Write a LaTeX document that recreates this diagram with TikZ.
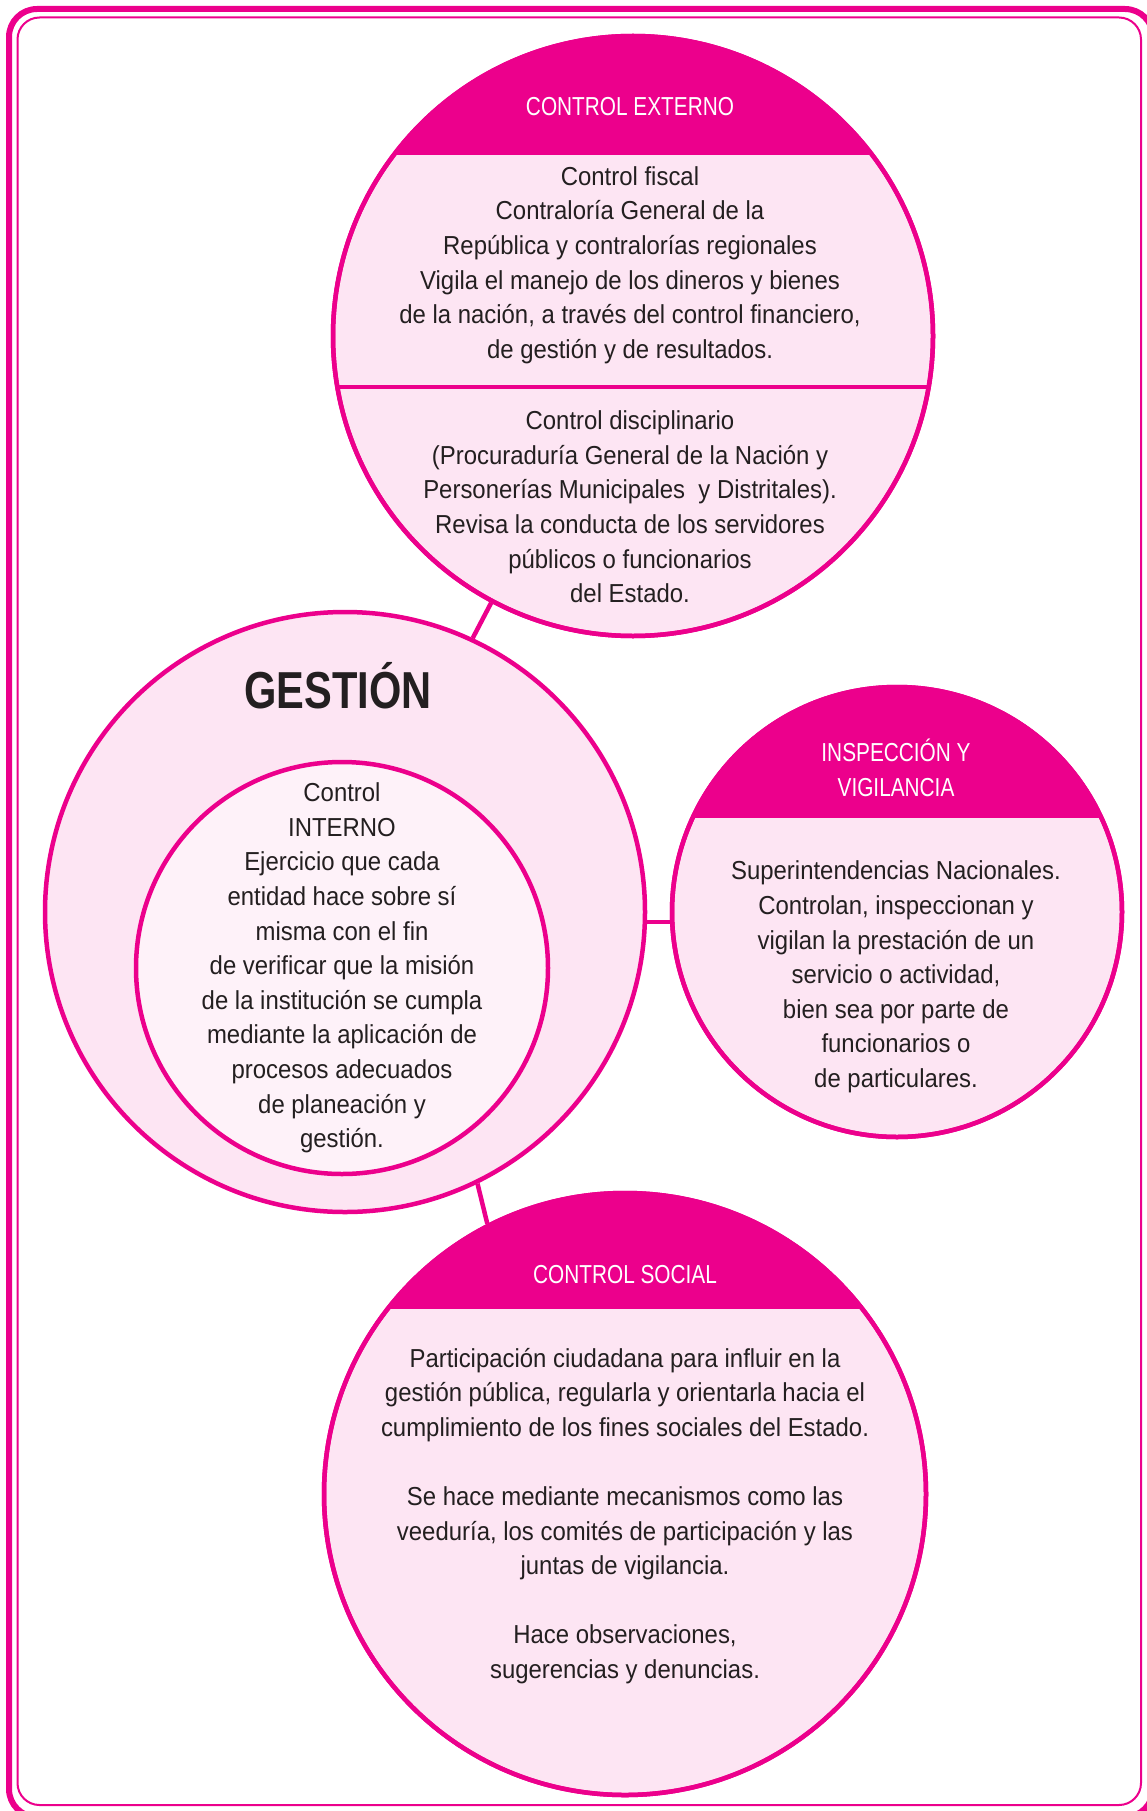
\documentclass[tikz,border=0pt]{standalone}
\usepackage{fontspec}
\setmainfont{Liberation Sans}[FakeStretch=0.92]
\newfontfamily\titular{Liberation Sans}[FakeStretch=0.8]
\definecolor{rosa}{HTML}{EC008C}
\definecolor{tinta}{HTML}{231F20}
\tikzset{
  circulo/.style={circle,draw=rosa,line width=4.5pt,fill=rosa!10,inner sep=0pt},
  texto/.style={align=center,text=tinta,font=\fontsize{26}{34.6}\selectfont},
  titulo/.style={align=center,text=white,font=\titular\fontsize{26}{34.6}\selectfont},
  enlace/.style={rosa,line width=4.5pt}
}
\begin{document}
\begin{tikzpicture}[x=1pt,y=-1pt]
  \useasboundingbox (0,0) rectangle (1147,1811);
  \draw[rosa,line width=6pt,rounded corners=28pt] (9,9) rectangle (1153,1817);
  \draw[rosa,line width=2pt,rounded corners=22pt] (17.5,17.5) rectangle (1141,1805);
  % circulos
  \node[circulo,minimum size=600pt] (externo) at (633,336) {};
  \node[circulo,minimum size=600pt] (gestion) at (345,912) {};
  \node[circulo,fill=rosa!5,minimum size=412pt] (interno) at (342,968) {};
  \node[circulo,minimum size=450pt] (inspeccion) at (897,912) {};
  \node[circulo,minimum size=602pt] (social) at (625,1494) {};
  \foreach \c/\r/\y in {externo/300/155,inspeccion/225/818,social/301/1309}{
    \begin{scope}
      \clip (\c.center) circle[radius=\r];
      \fill[rosa] (0,0) rectangle (1147,\y);
    \end{scope}
    \draw[enlace] (\c.center) circle[radius=\r];
  }
  \begin{scope}
    \clip (externo.center) circle[radius=300];
    \draw[enlace] (0,387) -- (1147,387);
  \end{scope}
  \draw[enlace] (gestion.65) -- (externo.-118);
  \draw[enlace] (gestion.east |- 0,922) -- (inspeccion.west |- 0,922);
  \draw[enlace] (gestion.-64) -- (social.117);
  % textos
  \node[titulo] (tExterno) at (630,107) {CONTROL EXTERNO};
  \node[texto] (fiscal) at (630,265) {Control fiscal\\Contraloría General de la\\República y contralorías regionales\\Vigila el manejo de los dineros y bienes\\de la nación, a través del control financiero,\\de gestión y de resultados.};
  \node[texto] (disciplinario) at (630,507) {Control disciplinario\\(Procuraduría General de la Nación y\\Personerías Municipales \ y Distritales).\\Revisa la conducta de los servidores\\públicos o funcionarios\\del Estado.};
  \node[text=tinta,font=\titular\bfseries\fontsize{52}{60}\selectfont] (tGestion) at (338,686) {GESTIÓN};
  \node[texto] (tInterno) at (342,968) {Control\\INTERNO\\Ejercicio que cada\\entidad hace sobre sí\\misma con el fin\\de verificar que la misión\\de la institución se cumpla\\mediante la aplicación de\\procesos adecuados\\de planeación y\\gestión.};
  \node[titulo] (tInspeccion) at (896,768) {INSPECCIÓN Y\\VIGILANCIA};
  \node[texto] (superintendencias) at (896,977) {Superintendencias Nacionales.\\Controlan, inspeccionan y\\vigilan la prestación de un\\servicio o actividad,\\bien sea por parte de\\funcionarios o\\de particulares.};
  \node[titulo] (tSocial) at (625,1275) {CONTROL SOCIAL};
  \node[texto] (participacion) at (625,1516) {Participación ciudadana para influir en la\\gestión pública, regularla y orientarla hacia el\\cumplimiento de los fines sociales del Estado.\\[34.6pt]Se hace mediante mecanismos como las\\veeduría, los comités de participación y las\\juntas de vigilancia.\\[34.6pt]Hace observaciones,\\sugerencias y denuncias.};
\end{tikzpicture}
\end{document}
